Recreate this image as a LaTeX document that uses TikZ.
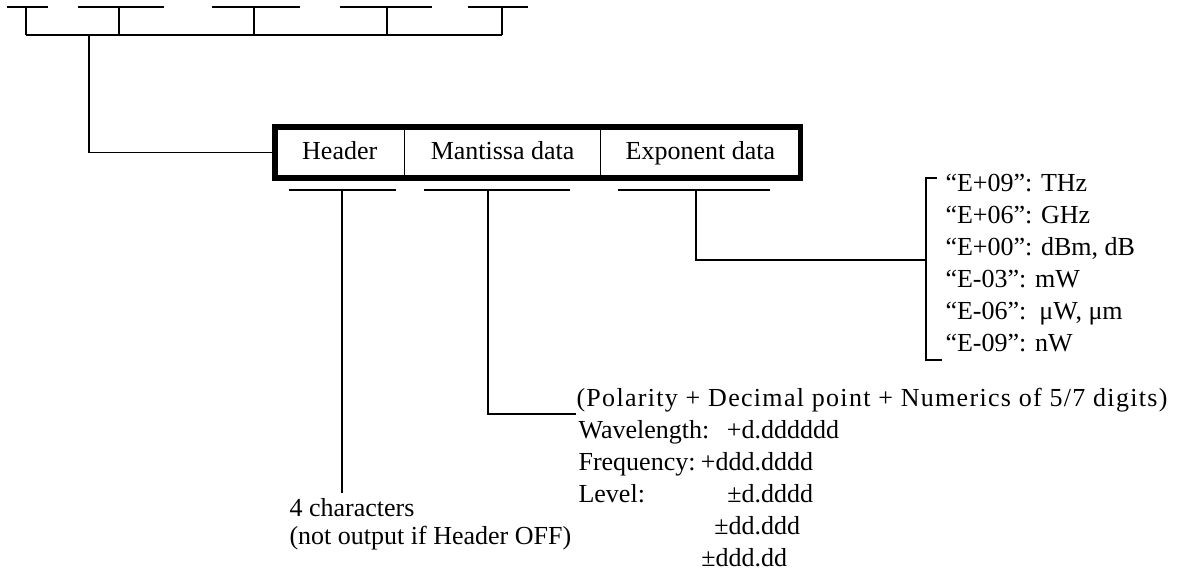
\documentclass[tikz,border=0pt]{standalone}
\usepackage{fontspec}
\setmainfont{Liberation Serif}
\usetikzlibrary{positioning}

\begin{document}
\begin{tikzpicture}[x=1pt,y=-1pt,line width=1.1pt,
    txt/.style={inner sep=0pt,anchor=base west,font=\fontsize{26}{32}\selectfont},
    cell/.style={minimum height=50pt,inner sep=0pt,text height=18pt,text depth=5pt,
      font=\fontsize{26}{30}\selectfont}]
  \useasboundingbox (0,0) rectangle (1188,574);
  % bus at the top
  \foreach \a/\b/\m [count=\i] in {7/48/26,78/164/119,212/300/254,340/432/387,468/528/502}{
    \draw (\a,7) -- (\b,7);
    \coordinate (t\i) at (\m,35);
    \draw (\m,7) -- (t\i);
  }
  \draw (t1) -- (t5);
  \coordinate (bus) at (89,35);

  % the three fields
  \node[cell,minimum width=128.5pt] (hdr) at (339.75,152.5) {Header};
  \node[cell,minimum width=195pt,right=0pt of hdr] (man) {Mantissa data};
  \node[cell,minimum width=198.5pt,right=0pt of man] (exp) {Exponent data};
  \draw (hdr.north east) -- (hdr.south east);
  \draw (man.north east) -- (man.south east);
  \draw[line width=5.5pt] (hdr.north west) rectangle (exp.south east);
  \draw (bus) |- (hdr.west);

  % underlines
  \coordinate (hb) at (342,190);
  \coordinate (mb) at (488,190);
  \coordinate (eb) at (696,190);
  \draw (289,190) -- (396,190);
  \draw (424,190) -- (570,190);
  \draw (618,190) -- (770,190);

  % exponent units
  \node[txt,anchor=north west,align=left] (units) at (945,174)
    {“E+09”: THz\\“E+06”: GHz\\“E+00”: dBm, dB\\“E-03”: mW\\“E-06”:\, μW, μm\\“E-09”: nW};
  \coordinate (brk) at (926,260);
  \draw (937,178) -- (926,178) -- (926,360) -- (942,360);
  \draw (eb) |- (brk);

  % mantissa format
  \node[txt,font=\fontsize{26}{32}\selectfont\addfontfeature{LetterSpace=5}] (pol) at (576,406)
    {(Polarity + Decimal point + Numerics of 5/7 digits)};
  \draw (mb) |- ([yshift=-8pt]pol.base west);
  \node[txt] (wl) at (578,438) {Wavelength:};
  \node[txt] (fq) at (578,470) {Frequency:};
  \node[txt] (lv) at (578,502) {Level:};
  \foreach \v/\y in {{\llap{+d}.dddddd}/438,{\llap{+ddd}.dddd}/470,{\llap{±d}.dddd}/502,{\llap{±dd}.ddd}/534,{\llap{±ddd}.dd}/566}
    \node[txt] at (754,\y) {\v};

  % header note
  \node[txt] (hn) at (289,516) {4 characters};
  \node[txt] (ho) at (289,544) {(not output if Header OFF)};
  \draw (hb) -- (342,493);
\end{tikzpicture}
\end{document}
